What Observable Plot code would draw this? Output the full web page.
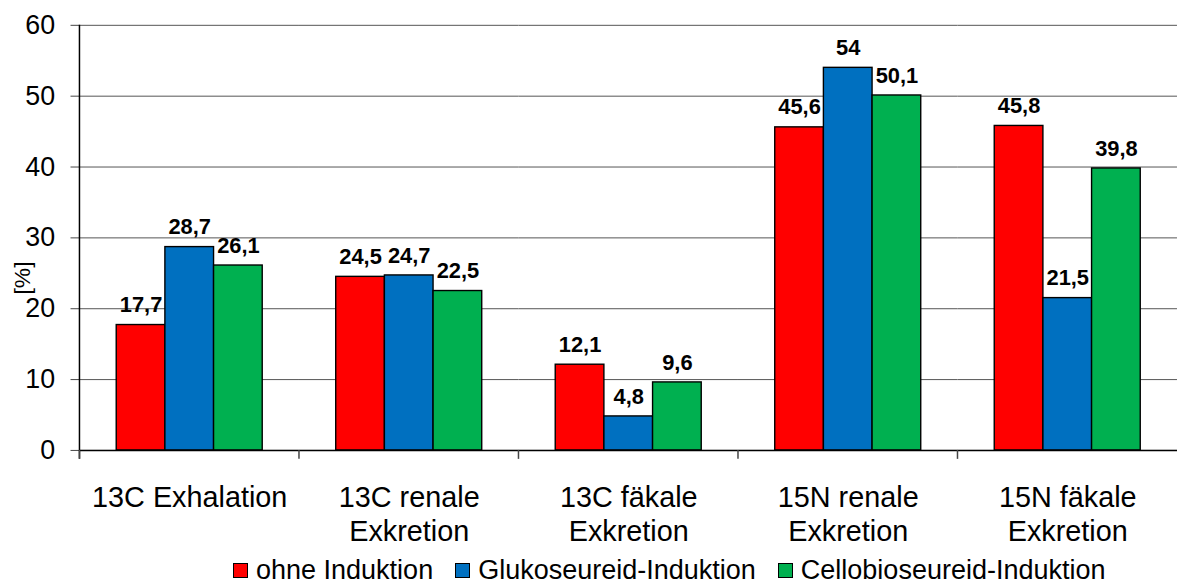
<!DOCTYPE html>
<html>
<head>
<meta charset="utf-8">
<script src="https://cdn.jsdelivr.net/npm/d3@7"></script>
<script src="https://cdn.jsdelivr.net/npm/@observablehq/plot@0.6"></script>
<style>
  html, body { margin: 0; padding: 0; background: #fff; overflow: hidden; }
  body { width: 1177px; height: 583px; font-family: "Liberation Sans", Arial, sans-serif; }
  #chart svg { display: block; overflow: visible; }
  .legend { display: flex; align-items: center; padding-left: 233px; padding-top: 7px; font-size: 27px; color: #000; height: 31px; white-space: nowrap; }
  .legend .item { display: flex; align-items: center; margin-right: 22px; }
  .legend .swatch { width: 13px; height: 13px; border: 1px solid #000; margin-right: 8px; }
</style>
</head>
<body>
<div id="chart"></div>
<div class="legend" id="legend"></div>
<script>
// Categories on the x axis and their two-line tick labels
const categories = ["13C Exhalation", "13C renale Exkretion", "13C fäkale Exkretion", "15N renale Exkretion", "15N fäkale Exkretion"];
const categoryLabels = ["13C Exhalation", "13C renale\nExkretion", "13C fäkale\nExkretion", "15N renale\nExkretion", "15N fäkale\nExkretion"];

// Series (one bar per category each)
const series = ["ohne Induktion", "Glukoseureid-Induktion", "Cellobioseureid-Induktion"];
const ohneInduktion = [17.7, 24.5, 12.1, 45.6, 45.8];
const glukoseureid = [28.7, 24.7, 4.8, 54, 21.5];
const cellobioseureid = [26.1, 22.5, 9.6, 50.1, 39.8];
const seriesColors = ["#ff0000", "#0070c0", "#00b050"];

const yTicks = [0, 10, 20, 30, 40, 50, 60];

// Long table for the bars
const values = [ohneInduktion, glukoseureid, cellobioseureid];
const data = [];
categories.forEach((cat, i) => {
  series.forEach((s, j) => data.push({category: cat, series: s, value: values[j][i]}));
});

const fmt = d3.formatLocale({decimal: ",", thousands: ".", grouping: [3], currency: ["", "€"]}).format("~g");

const font = "'Liberation Sans', Arial, sans-serif";

const chart = Plot.plot({
  width: 1185,
  height: 552,
  marginLeft: 80,
  marginRight: 0,
  marginTop: 25,
  marginBottom: 99,
  style: {fontFamily: font, color: "#000", background: "#fff", overflow: "visible"},
  fx: {domain: categories, padding: 0, label: null},
  x: {domain: series, paddingInner: 0, paddingOuter: 0.75, axis: null},
  y: {domain: [0, 60], label: null},
  color: {domain: series, range: seriesColors},
  marks: [
    Plot.gridY(yTicks, {stroke: "#555", strokeOpacity: 1, strokeWidth: 1}),
    Plot.axisY(yTicks, {tickSize: 9, tickPadding: 16, fontSize: 27, label: null, stroke: "#444"}),
    Plot.axisFx({
      anchor: "bottom",
      tickSize: 0,
      tickPadding: 33,
      fontSize: 29,
      lineHeight: 1.17,
      label: null,
      tickFormat: (d) => categoryLabels[categories.indexOf(d)]
    }),
    Plot.barY(data, {fx: "category", x: "series", y: "value", fill: "series", stroke: "#000", strokeWidth: 1.4}),
    Plot.text(data, {
      fx: "category", x: "series", y: "value",
      text: (d) => fmt(d.value),
      lineAnchor: "bottom", dy: -13,
      fontSize: 22, fontWeight: "bold", fill: "#000"
    }),
    Plot.ruleY([0], {stroke: "#000", strokeWidth: 1.5}),
    Plot.text(["[%]"], {frameAnchor: "left", dx: -58, dy: 57, rotate: -90, fontSize: 23, fill: "#000", facetAnchor: "left"})
  ]
});

document.getElementById("chart").appendChild(chart);

// Left axis line and category boundary ticks drawn from the plot's own scales
const fx = chart.scale("fx");
const y = chart.scale("y");
const svg = d3.select(chart);
const y0 = y.apply(0);
const yTop = y.apply(60);
const left = fx.apply(categories[0]);
const g = svg.append("g").attr("stroke", "#000").attr("stroke-width", 1.5);
g.append("line").attr("x1", left).attr("x2", left).attr("y1", yTop).attr("y2", y0 + 9);
categories.forEach((c) => {
  const x = fx.apply(c);
  g.append("line").attr("x1", x).attr("x2", x).attr("y1", y0).attr("y2", y0 + 9).attr("stroke", "#444");
});

// Legend below the chart
const legend = d3.select("#legend");
series.forEach((s, i) => {
  const item = legend.append("div").attr("class", "item");
  item.append("div").attr("class", "swatch").style("background", seriesColors[i]);
  item.append("span").text(s);
});
</script>
</body>
</html>
